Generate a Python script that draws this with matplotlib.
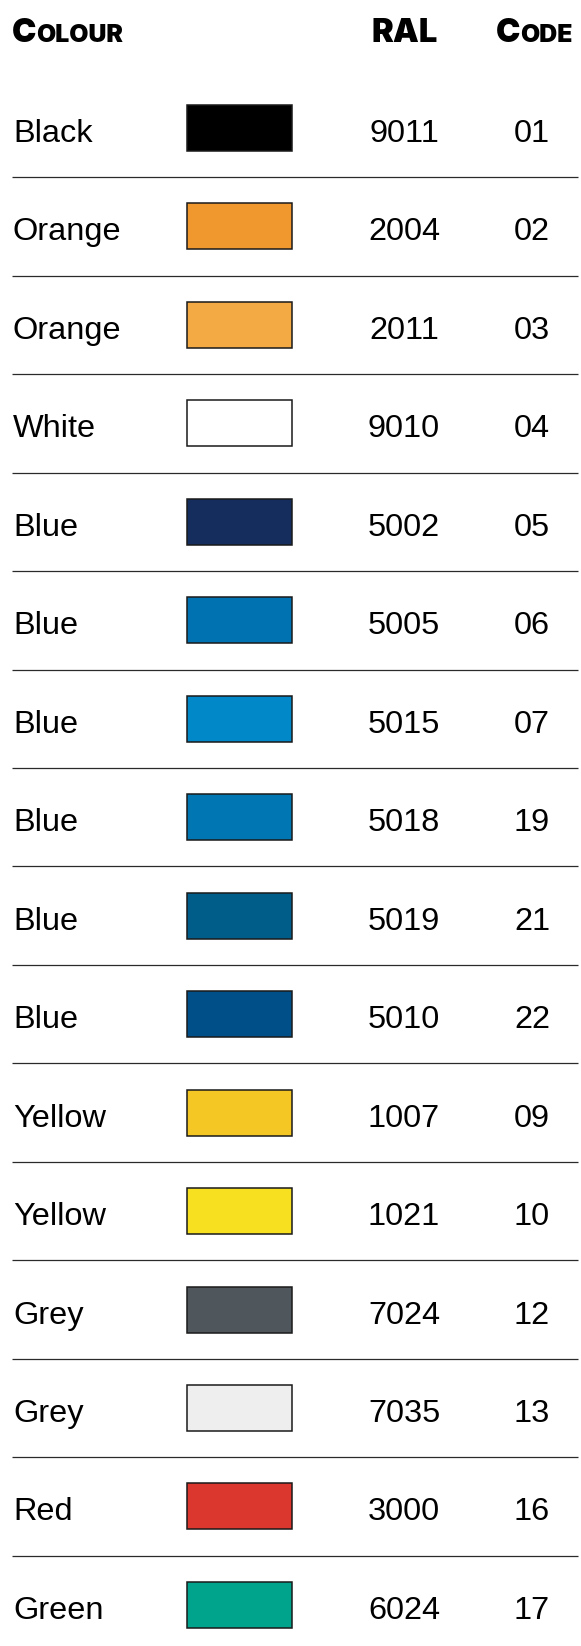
import matplotlib
matplotlib.use("Agg")
import matplotlib.pyplot as plt
from matplotlib.patches import Rectangle

names = ["Black", "Orange", "Orange", "White", "Blue", "Blue", "Blue", "Blue",
         "Blue", "Blue", "Yellow", "Yellow", "Grey", "Grey", "Red", "Green"]
ral = ["9011", "2004", "2011", "9010", "5002", "5005", "5015", "5018",
       "5019", "5010", "1007", "1021", "7024", "7035", "3000", "6024"]
codes = ["01", "02", "03", "04", "05", "06", "07", "19",
         "21", "22", "09", "10", "12", "13", "16", "17"]
swatch_colors = ["#000000", "#F0972D", "#F3AA45", "#FFFFFF", "#142D5C", "#0072B1",
                 "#0088C9", "#0076B3", "#005D8A", "#004F88", "#F5C725", "#F7E01F",
                 "#4F565C", "#EEEEEE", "#DC372E", "#00A38B"]
headers = ["Colour", "RAL", "Code"]

W, H = 581, 1646
fig = plt.figure(figsize=(W / 100, H / 100), dpi=100)
ax = fig.add_axes([0, 0, 1, 1])
pitch = 98.46
top_center = 128.0
ax.set_xlim(0, W)
ax.set_ylim((H - top_center) / pitch, -top_center / pitch)
ax.axis("off")

body_font = dict(family=["Liberation Sans", "DejaVu Sans"], fontsize=23.4, color="#000000")
n = len(names)
base_off = 14.0 / pitch
sw_h = 46.0 / pitch
for i in range(n):
    ax.text(13, i + base_off, names[i], ha="left", va="baseline", **body_font)
    ax.add_patch(Rectangle((186.5, i - sw_h / 2), 105, sw_h, facecolor=swatch_colors[i],
                           edgecolor="#1a1a1a", linewidth=1.1))
    ax.text(404, i + base_off, ral[i], ha="center", va="baseline", **body_font)
    ax.text(532, i + base_off, codes[i], ha="center", va="baseline", **body_font)
    if i < n - 1:
        ax.plot([12, 578], [i + 0.5, i + 0.5], color="#2a2a2a", linewidth=0.9,
                solid_capstyle="butt")

# Header in small caps
hdr_font = dict(family=["Inter", "DejaVu Sans"], fontweight=900, color="#000000")
big_size = 23.5
small_size = big_size * 0.76
hy = (42.0 - top_center) / pitch
fig.canvas.draw()
renderer = fig.canvas.get_renderer()


def small_caps(x, word):
    first, rest = word[0], word[1:].upper()
    t1 = ax.text(x, hy, first, ha="left", va="baseline", fontsize=big_size, **hdr_font)
    t2 = None
    if rest:
        bb1 = t1.get_window_extent(renderer)
        t2 = ax.text(x + bb1.width, hy, rest, ha="left", va="baseline",
                     fontsize=small_size, **hdr_font)
    return t1, t2


def place_word(x_left, x_right, word, ha):
    t1, t2 = small_caps(0, word)
    total = t1.get_window_extent(renderer).width
    if t2 is not None:
        total += t2.get_window_extent(renderer).width
    t1.remove()
    if t2 is not None:
        t2.remove()
    x = x_left if ha == "left" else (x_left + x_right) / 2 - total / 2
    small_caps(x, word)


place_word(12, None, headers[0], "left")
ax.text(404.5, hy, headers[1], ha="center", va="baseline", fontsize=big_size, **hdr_font)
place_word(494, 574, headers[2], "center")

fig.savefig("out.png", dpi=100)
